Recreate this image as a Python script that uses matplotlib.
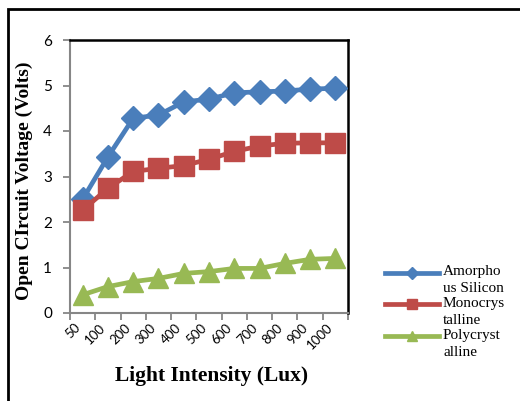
import numpy as np
import matplotlib
matplotlib.use('Agg')
import matplotlib.pyplot as plt
from matplotlib.lines import Line2D
from matplotlib.patches import Rectangle

plt.rcParams['font.family'] = ['Liberation Serif', 'DejaVu Serif']

intensity = ['50', '100', '200', '300', '400', '500', '600', '700', '800', '900', '1000']
amorphous = [2.5, 3.43, 4.28, 4.35, 4.64, 4.70, 4.84, 4.86, 4.88, 4.92, 4.94]
mono = [2.26, 2.74, 3.11, 3.18, 3.24, 3.38, 3.55, 3.67, 3.73, 3.74, 3.74]
poly = [0.40, 0.58, 0.69, 0.76, 0.87, 0.91, 0.98, 0.98, 1.09, 1.18, 1.20]

series = [
    (['Amorpho', 'us Silicon'], amorphous, '#4A7EBB', 'D', 12),
    (['Monocrys', 'talline'], mono, '#BE4B48', 's', 14),
    (['Polycryst', 'alline'], poly, '#98B954', '^', 15),
]

fig = plt.figure(figsize=(5.2, 4.01), dpi=100, facecolor='white')
ax = fig.add_axes([70/520, 1 - 313/401, 278/520, 273/401])

x = np.arange(len(intensity))
for label, vals, col, mk, ms in series:
    ax.plot(x, vals, color=col, lw=3.4, marker=mk, ms=ms, mec=col, mfc=col, clip_on=False, zorder=3)

ax.set_xlim(-0.5, len(intensity) - 0.5)
ax.set_ylim(0, 6)
ax.set_yticks(range(0, 7))
ax.set_yticklabels([str(i) for i in range(0, 7)], fontsize=11, family=['Lato', 'DejaVu Sans'])
ax.set_xticks(np.arange(-0.5, len(intensity), 1.0))
ax.set_xticklabels([])
ax.set_xticks(x, minor=True)
ax.set_xticklabels(intensity, minor=True, rotation=45, ha='right', fontsize=9.5,
                   family=['Lato', 'DejaVu Sans'])
ax.tick_params(axis='x', which='minor', length=0, pad=6)
ax.tick_params(axis='both', which='major', length=5, width=1.3, color='#868686')
ax.tick_params(axis='y', pad=8)

for s in ['left', 'bottom']:
    ax.spines[s].set_color('#868686')
    ax.spines[s].set_linewidth(1.5)
for s in ['top', 'right']:
    ax.spines[s].set_color('black')
    ax.spines[s].set_linewidth(1.8)

ax.set_ylabel('Open CIrcuit Voltage (Volts)', fontsize=14, fontweight='bold')
ax.yaxis.set_label_coords(-37/278, 132/273)
ax.set_xlabel('Light Intensity (Lux)', fontsize=15.5, fontweight='bold')
ax.xaxis.set_label_coords(142/278, -53/273)

# legend drawn by hand (handle level with the first text line)
leg_y = [273, 304, 336]
for (label, vals, col, mk, ms), yy in zip(series, leg_y):
    yf = 1 - yy / 401
    fig.add_artist(Line2D([385/520, 439/520], [yf, yf], color=col, lw=3.4, transform=fig.transFigure))
    fig.add_artist(Line2D([412/520], [yf], color=col, marker=mk, ms=6.5, mec=col, mfc=col,
                          transform=fig.transFigure))
    fig.text(443/520, 1 - (yy - 1) / 401, label[0], fontsize=11, va='center', ha='left')
    fig.text(443/520, 1 - (yy + 16) / 401, label[1], fontsize=11, va='center', ha='left')

# outer chart border
fig.add_artist(Rectangle((8/520, -0.05), 1.1, 1 - 9/401 + 0.05, transform=fig.transFigure,
                         fill=False, ec='black', lw=2, clip_on=False))

fig.savefig('out.png', dpi=100, facecolor='white')
